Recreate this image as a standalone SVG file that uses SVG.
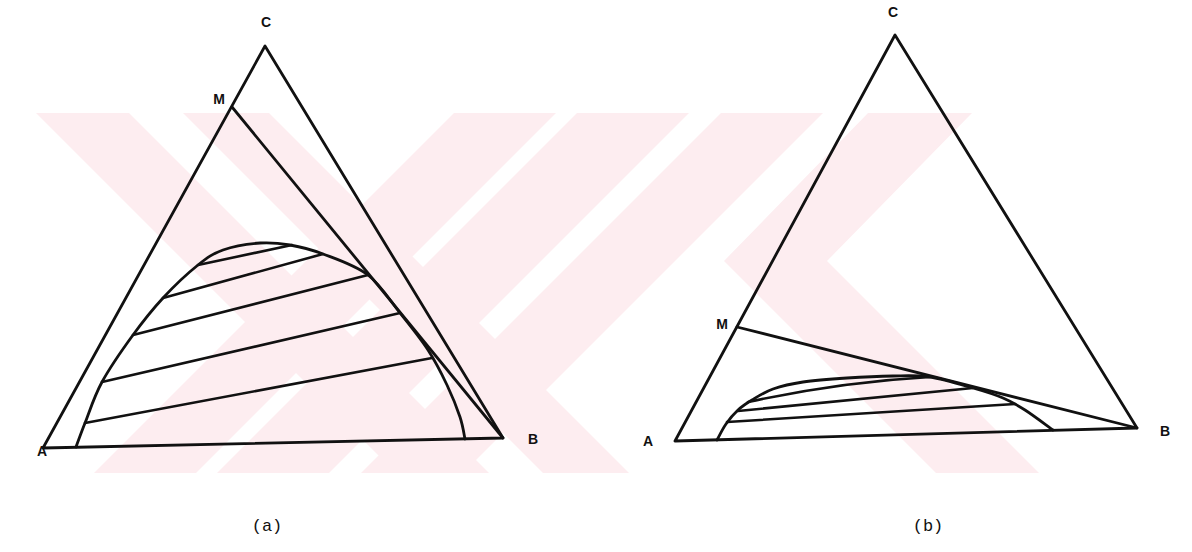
<svg xmlns="http://www.w3.org/2000/svg" width="1192" height="552" viewBox="0 0 1192 552">
<style>
.ln{fill:none;stroke:#111;stroke-width:2.8;stroke-linejoin:round;stroke-linecap:round}
.tl{fill:none;stroke:#111;stroke-width:2.6;stroke-linecap:round}
.lb{font-family:"Liberation Sans",Arial,sans-serif;font-weight:bold;font-size:14px;fill:#111}
.cap{font-family:"Liberation Mono","Courier New",monospace;font-size:17px;fill:#111}
.wm{fill:#fdedf0;stroke:none}
</style>
<rect width="1192" height="552" fill="#fff"/>
<g id="watermark">
<polygon class="wm" points="36,113 129,113 489,473 396,473"/>
<polygon class="wm" points="183,113 269,113 629,473 543,473"/>
<polygon class="wm" points="454,113 556,113 196,473 94,473"/>
<polygon class="wm" points="577,113 689,113 329,473 217,473"/>
<polygon class="wm" points="721,113 823,113 463,473 361,473"/>
<polygon class="wm" points="868,113 972,113 827,261 1039,473 936,473 724,261"/>
</g>
<g id="diagram-a">
<polygon class="ln" points="43,448 503,438 265,46"/>
<line class="ln" x1="232" y1="107" x2="503" y2="438"/>
<path class="ln" d="M76,447 C77.5,443 80.7,433.8 85,423 C89.3,412.2 94,396.7 102,382 C110,367.3 122.8,349 133,335 C143.2,321 152.2,309.7 163,298 C173.8,286.3 188,273 198,265 C208,257 212.7,253.7 223,250 C233.3,246.3 248.8,243.8 260,243 C271.2,242.2 279.5,243.2 290,245 C300.5,246.8 310,249 323,254 C336,259 355.2,265.2 368,275 C380.8,284.8 390,300.5 400,313 C410,325.5 420.2,338 428,350 C435.8,362 441.7,373.8 447,385 C452.3,396.2 457,408 460,417 C463,426 464.2,435.3 465,439"/>
<g id="tielines-a">
<line class="tl" x1="198" y1="265" x2="292" y2="245"/>
<line class="tl" x1="163" y1="298" x2="323" y2="254"/>
<line class="tl" x1="133" y1="335" x2="368" y2="275"/>
<line class="tl" x1="102" y1="382" x2="400" y2="313"/>
<line class="tl" x1="85" y1="423" x2="432" y2="358"/>
</g>
<text class="lb" x="266" y="27" text-anchor="middle">C</text>
<text class="lb" x="219" y="104" text-anchor="middle">M</text>
<text class="lb" x="42" y="456" text-anchor="middle">A</text>
<text class="lb" x="533" y="444" text-anchor="middle">B</text>
<text class="cap" x="267" y="531" text-anchor="middle">(a)</text>
</g>
<g id="diagram-b">
<polygon class="ln" points="675,441 1137,428 895,35"/>
<line class="ln" x1="737" y1="327" x2="1137" y2="428"/>
<path class="ln" d="M717,440 C718.5,437.3 722.5,429 726,424 C729.5,419 733.7,414 738,410 C742.3,406 746.2,403.5 752,400 C757.8,396.5 764.5,392 773,389 C781.5,386 790.7,383.8 803,382 C815.3,380.2 832,379 847,378 C862,377 879.2,376.2 893,376 C906.8,375.8 916.7,375 930,377 C943.3,379 960.8,384.5 973,388 C985.2,391.5 994.3,394.3 1003,398 C1011.7,401.7 1016.7,404.7 1025,410 C1033.3,415.3 1048.3,426.7 1053,430"/>
<g id="tielines-b">
<path class="tl" d="M748,402 Q840,382 930,377"/>
<line class="tl" x1="738" y1="411" x2="973" y2="388"/>
<line class="tl" x1="727" y1="422" x2="1015" y2="404"/>
</g>
<text class="lb" x="893" y="17" text-anchor="middle">C</text>
<text class="lb" x="722" y="329" text-anchor="middle">M</text>
<text class="lb" x="648" y="446" text-anchor="middle">A</text>
<text class="lb" x="1165" y="436" text-anchor="middle">B</text>
<text class="cap" x="928" y="531" text-anchor="middle">(b)</text>
</g>
</svg>
